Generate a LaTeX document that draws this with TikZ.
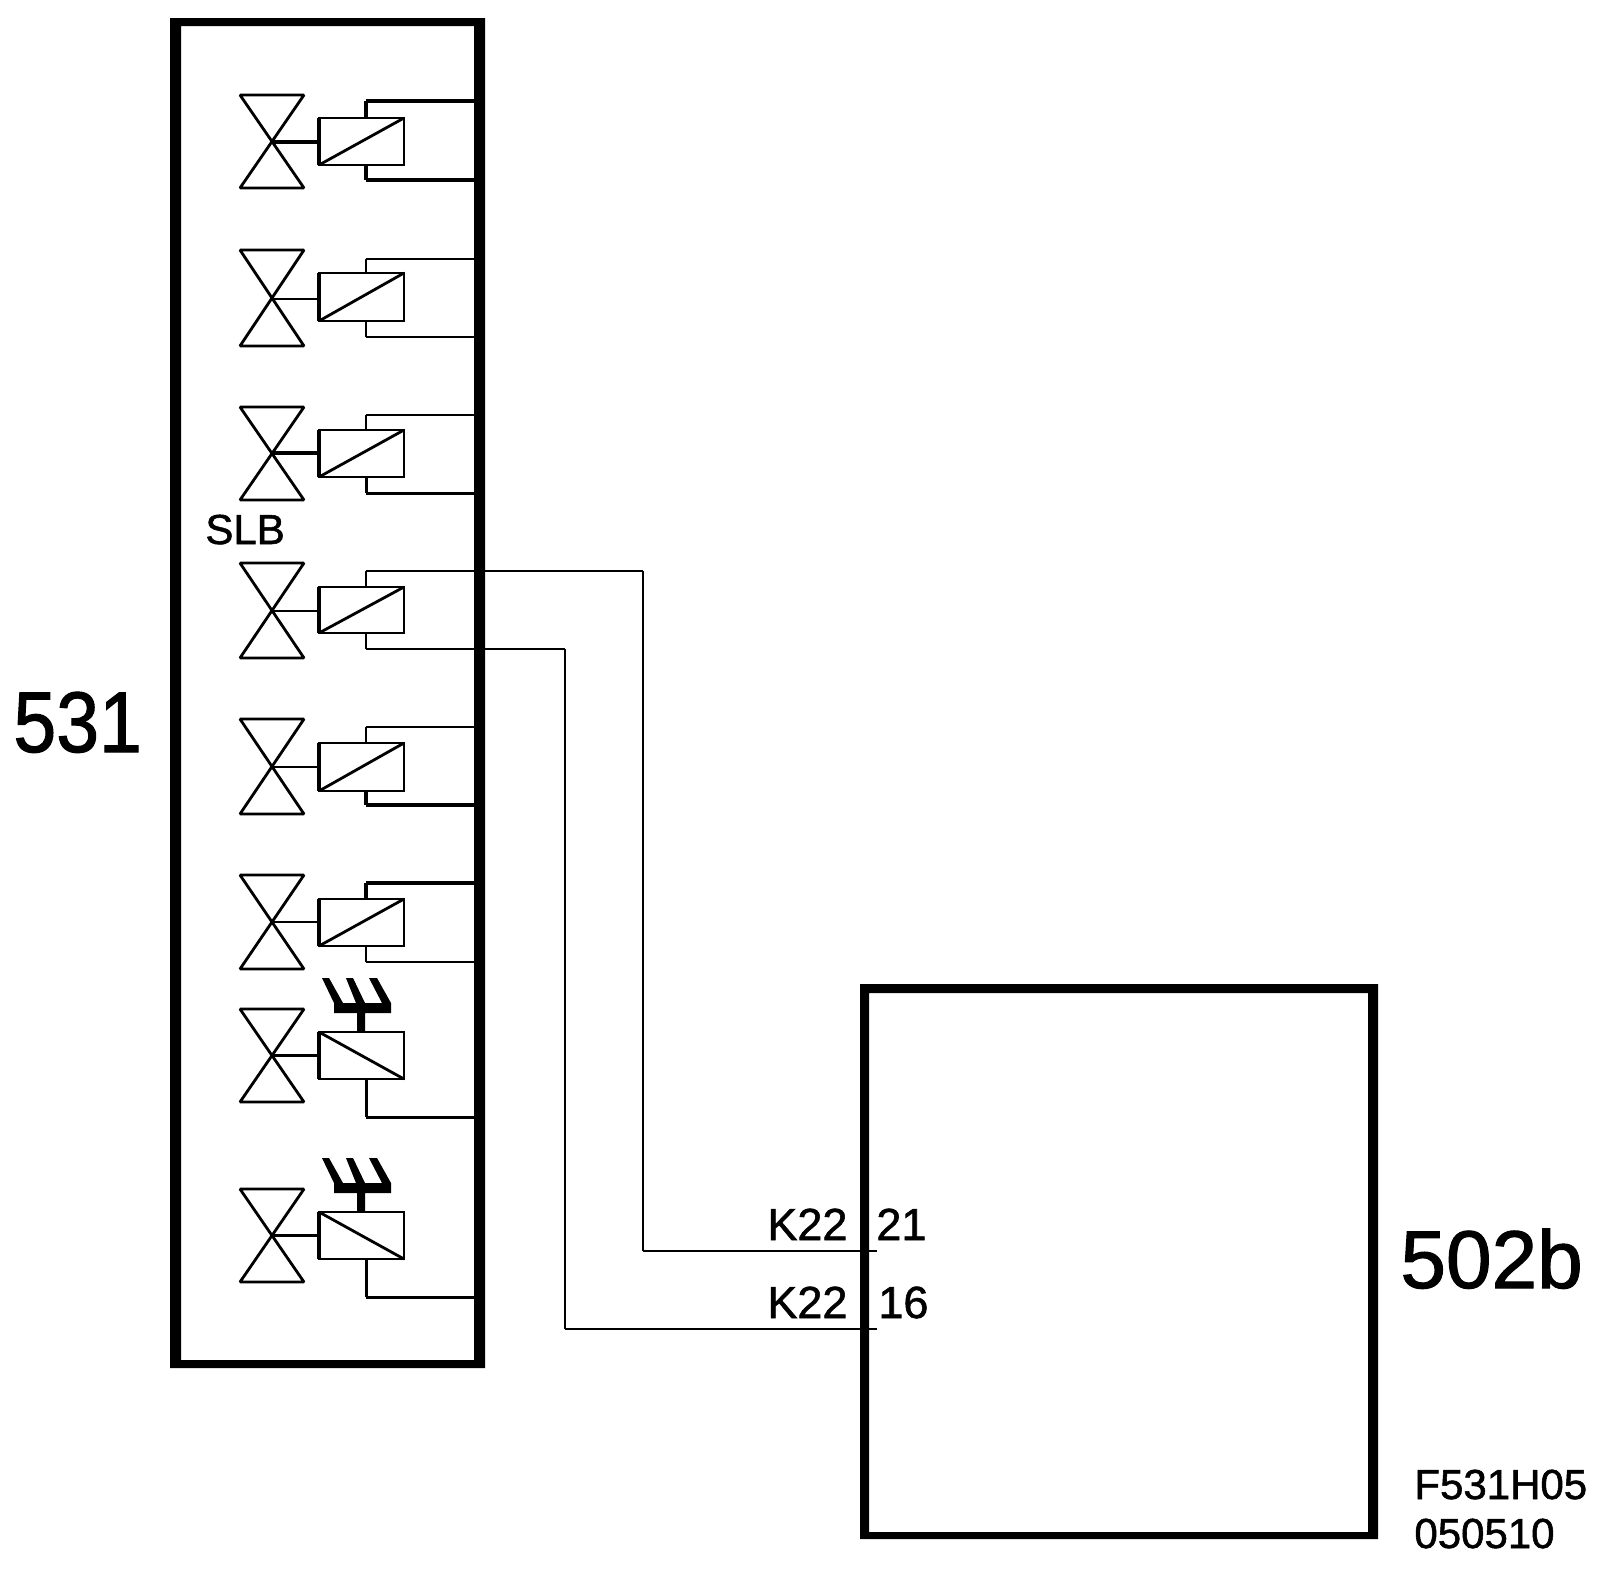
\documentclass[tikz,border=0pt]{standalone}
\usepackage{fontspec}
\setmainfont[FakeBold=1.3]{Liberation Sans}
\newcommand{\valvesym}[7]{%
  % #1 index, #2 top, #3 centre, #4 bottom, #5 solenoid top, #6 solenoid bottom, #7 stem width (px)
  \node[solbox, minimum height={(#6-#5)*0.5pt}] (s#1) at (361.5,{(#5+#6)/2}) {};
  \draw[wire, line width=1.9pt] (s#1.north west) -- (s#1.south west);
  \coordinate (v#1) at (272,#3);
  \draw[wire] (240,#2) -- (304,#2) -- (240,#4) -- (304,#4) -- cycle;
  \draw[wire, line width=#7*0.5pt] (v#1) -- (s#1.west |- v#1);
}
\newcommand{\forksym}[1]{%
  \fill (357,#1) -- (357,{#1-19}) -- (334,{#1-19}) -- (334,{#1-29})
    -- (322,{#1-54}) -- (329,{#1-54}) -- (343,{#1-29})
    -- (356,{#1-29}) -- (346,{#1-54}) -- (353,{#1-54}) -- (365,{#1-29})
    -- (382,{#1-29}) -- (369,{#1-54}) -- (377,{#1-54}) -- (391,{#1-29})
    -- (391,{#1-19}) -- (365,{#1-19}) -- (365,#1) -- cycle;
}
\begin{document}
\begin{tikzpicture}[x=0.5pt,y=-0.5pt,
  wire/.style={line width=1.4pt, line cap=square, line join=miter, miter limit=2},
  thin wire/.style={line width=1.15pt, line cap=square},
  solbox/.style={draw, line width=1.4pt, rectangle, minimum width=42.5pt, inner sep=0pt, outer sep=0pt},
  boxnode/.style={rectangle, inner sep=0pt, outer sep=0pt, draw=none},
  small label/.style={inner sep=0pt, anchor=base west, font=\fontsize{21}{25}\selectfont},
  port label/.style={inner sep=0pt, anchor=base west, font=\fontsize{22.5}{27}\selectfont},
  big label/.style={inner sep=0pt, anchor=base west, font=\fontsize{41}{48}\selectfont}]
\useasboundingbox (0,0) rectangle (1600,1580);
\fill[white] (0,0) rectangle (1600,1580);

% enclosures
\node[boxnode, minimum width=157.5pt, minimum height=675pt] (b531) at (327.5,693) {};
\node[boxnode, minimum width=259pt, minimum height=277.5pt] (b502) at (1119,1261.5) {};
\fill[even odd rule] (170,18) rectangle (485,1368) (181,26) rectangle (474,1360);
\fill[even odd rule] (860,984) rectangle (1378,1539) (869,993) rectangle (1368,1532);

% valves with solenoids
\valvesym{1}{95}{142}{188}{118}{165}{3.5}
\valvesym{2}{250}{299}{346}{273}{321}{2.5}
\valvesym{3}{407}{453}{500}{430}{477}{3.5}
\valvesym{4}{563}{611}{658}{587}{633}{2}
\valvesym{5}{719}{767}{814}{743}{791}{2}
\valvesym{6}{875}{922}{969}{899}{946}{1.5}
\valvesym{7}{1009}{1055.5}{1102}{1032}{1079}{3}
\valvesym{8}{1189}{1235.5}{1282}{1212}{1259}{3}

% coil diagonals
\foreach \i in {1,...,6} \draw[wire] (s\i.south west) -- (s\i.north east);
\foreach \i in {7,8} \draw[wire] (s\i.north west) -- (s\i.south east);

% forks on the two last solenoids
\forksym{1032}
\forksym{1212}

\coordinate (wx) at (366,0);
% wires to the enclosure wall
\foreach \i/\ya/\yb/\la/\lb in {1/101/180/1.7/1.7, 2/259/337/1.2/1.2, 3/415/493/1.1/1.5, 5/727/805/1.2/1.6, 6/883/962/1.6/1.15}{
  \coordinate (wu\i) at (474,\ya);
  \coordinate (wl\i) at (474,\yb);
  \draw[wire, line width=\la pt] (s\i.north -| wx) -- (wu\i -| wx) (wu\i -| wx) -- (wu\i);
  \draw[wire, line width=\lb pt] (s\i.south -| wx) -- (wl\i -| wx) (wl\i -| wx) -- (wl\i);
}
\foreach \i/\yb in {7/1117, 8/1297}{
  \coordinate (wl\i) at (474,\yb);
  \draw[wire, line width=1.5pt] (s\i.south -| wx) -- (wl\i -| wx) (wl\i -| wx) -- (wl\i);
}

% connections to 502b
\coordinate (p21) at (877,1251);
\coordinate (p16) at (877,1329);
\coordinate (c21) at (643,571);
\coordinate (c16) at (565,649);
\draw[thin wire] (s4.north -| wx) -- (c21 -| wx) (c21 -| wx) -- (c21) (c21) -- (c21 |- p21) (c21 |- p21) -- (p21);
\draw[thin wire] (s4.south -| wx) -- (c16 -| wx) (c16 -| wx) -- (c16) (c16) -- (c16 |- p16) (c16 |- p16) -- (p16);

% labels
\node[small label] (slb) at (205,544) {SLB};
\node[big label] (n531) at (13,752) {\scalebox{0.94}[1.05]{531}};
\node[big label] (n502) at (1400,1288) {502b};
\node[port label] (k1) at (767,1240) {K22};
\node[port label] (t21) at (876,1240) {21};
\node[port label] (k2) at (767,1318) {K22};
\node[port label] (t16) at (878,1318) {16};
\node[small label] (f1) at (1414,1499) {F531H05};
\node[small label] (f2) at (1414,1548) {050510};
\end{tikzpicture}
\end{document}
